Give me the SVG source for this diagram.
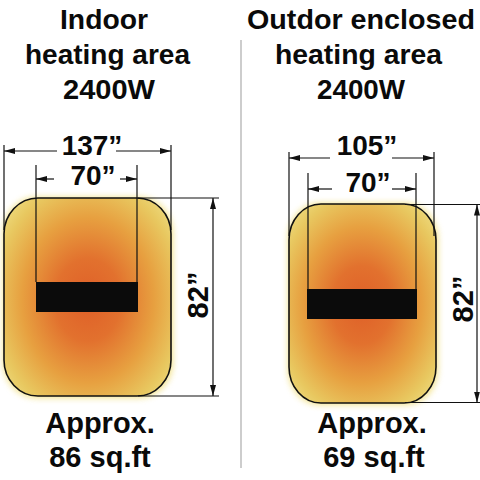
<svg xmlns="http://www.w3.org/2000/svg" width="480" height="480" viewBox="0 0 480 480">
<defs>
<style>
.t{font-family:"Liberation Sans",Arial,sans-serif;font-weight:bold;fill:#0a0a0a;text-anchor:middle}
.title{font-size:28.5px}
.big{font-size:29px}
.dim{font-size:28px}
.dl{stroke:#111;stroke-width:1.2;fill:none}
.da{stroke:#111;stroke-width:1.2;fill:none;marker-start:url(#ah)}
.area{stroke:#111;stroke-width:1.6}
.bar{fill:#0b0b0b}
.glow{fill:#f0dc70;opacity:0.8;filter:url(#blur)}
</style>
<marker id="ah" viewBox="-11 -3 11 6" markerWidth="11" markerHeight="6" refX="0" refY="0" markerUnits="userSpaceOnUse" orient="auto-start-reverse">
<path d="M0,0 L-11,-3 L-11,3 Z" fill="#111"/>
</marker>
<filter id="blur" x="-20%" y="-20%" width="140%" height="140%"><feGaussianBlur stdDeviation="3"/></filter>
<radialGradient id="heatL" gradientUnits="userSpaceOnUse" cx="88" cy="300" r="110" gradientTransform="translate(88 300) scale(1 1.25) translate(-88 -300)">
<stop offset="0" stop-color="#df5f28"/>
<stop offset="0.3" stop-color="#e2712e"/>
<stop offset="0.6" stop-color="#e7a040"/>
<stop offset="0.85" stop-color="#e8c860"/>
<stop offset="1" stop-color="#eedc80"/>
</radialGradient>
<radialGradient id="heatR" gradientUnits="userSpaceOnUse" cx="362" cy="305" r="100" gradientTransform="translate(362 305) scale(1 1.3) translate(-362 -305)">
<stop offset="0" stop-color="#df5f28"/>
<stop offset="0.3" stop-color="#e2712e"/>
<stop offset="0.6" stop-color="#e7a040"/>
<stop offset="0.85" stop-color="#e8c860"/>
<stop offset="1" stop-color="#eedc80"/>
</radialGradient>
</defs>
<rect width="480" height="480" fill="#fff"/>
<line x1="241" y1="40" x2="241" y2="468" stroke="#bdbdbd" stroke-width="1.5"/>

<g id="indoor-title">
<text class="t title" x="104" y="28.5" textLength="88" lengthAdjust="spacingAndGlyphs">Indoor</text>
<text class="t title" x="107.5" y="64" textLength="165" lengthAdjust="spacingAndGlyphs">heating area</text>
<text class="t title" x="109" y="99" textLength="92" lengthAdjust="spacingAndGlyphs">2400W</text>
</g>
<g id="outdoor-title">
<text class="t title" x="361" y="28.5" textLength="228" lengthAdjust="spacingAndGlyphs">Outdor enclosed</text>
<text class="t title" x="358.5" y="64" textLength="167" lengthAdjust="spacingAndGlyphs">heating area</text>
<text class="t title" x="361" y="99" textLength="88" lengthAdjust="spacingAndGlyphs">2400W</text>
</g>

<g id="indoor-area">
<rect class="glow" x="3" y="197" width="170" height="201" rx="34" ry="36"/>
<rect class="area" x="4" y="198" width="167" height="198" rx="34" ry="36" fill="url(#heatL)"/>
<rect class="bar" x="36" y="282" width="102" height="30"/>
</g>
<g id="outdoor-area">
<rect class="glow" x="288" y="203" width="150" height="202" rx="32" ry="36"/>
<rect class="area" x="289" y="204" width="147" height="199" rx="32" ry="36" fill="url(#heatR)"/>
<rect class="bar" x="307" y="289" width="110" height="30"/>
</g>

<g id="connectors">
<line class="dl" x1="4" y1="145" x2="4" y2="230"/>
<line class="dl" x1="171" y1="145" x2="171" y2="230"/>
<line class="da" x1="4" y1="151" x2="57" y2="151"/>
<line class="da" x1="171" y1="151" x2="116" y2="151"/>
<line class="dl" x1="36" y1="165" x2="36" y2="282"/>
<line class="dl" x1="137" y1="165" x2="137" y2="282"/>
<line class="da" x1="36" y1="179" x2="54" y2="179"/>
<line class="da" x1="137" y1="179" x2="120" y2="179"/>
<line class="dl" x1="138" y1="198" x2="219" y2="198"/>
<line class="dl" x1="138" y1="396" x2="219" y2="396"/>
<line class="da" x1="213" y1="198" x2="213" y2="297"/>
<line class="da" x1="213" y1="396" x2="213" y2="297"/>
<line class="dl" x1="289" y1="152" x2="289" y2="236"/>
<line class="dl" x1="434" y1="152" x2="434" y2="236"/>
<line class="da" x1="289" y1="158" x2="330" y2="158"/>
<line class="da" x1="434" y1="158" x2="392" y2="158"/>
<line class="dl" x1="308" y1="173" x2="308" y2="289"/>
<line class="dl" x1="416" y1="173" x2="416" y2="289"/>
<line class="da" x1="308" y1="189" x2="332" y2="189"/>
<line class="da" x1="416" y1="189" x2="392" y2="189"/>
<line class="dl" x1="405" y1="204.5" x2="480" y2="204.5"/>
<line class="dl" x1="405" y1="402.5" x2="480" y2="402.5"/>
<line class="da" x1="477" y1="204.5" x2="477" y2="300"/>
<line class="da" x1="477" y1="402.5" x2="477" y2="300"/>
</g>

<g id="labels">
<text class="t dim" x="92" y="155">137”</text>
<text class="t dim" x="93" y="185">70”</text>
<text class="t dim" x="367" y="155">105”</text>
<text class="t dim" x="368" y="192">70”</text>
<text class="t big" transform="translate(208 295) rotate(-90)" x="0" y="0">82”</text>
<text class="t big" transform="translate(473 299) rotate(-90)" x="0" y="0">82”</text>
</g>

<g id="indoor-result">
<text class="t big" x="100" y="433">Approx.</text>
<text class="t big" x="100" y="467">86 sq.ft</text>
</g>
<g id="outdoor-result">
<text class="t big" x="372" y="433">Approx.</text>
<text class="t big" x="374" y="467">69 sq.ft</text>
</g>
</svg>
